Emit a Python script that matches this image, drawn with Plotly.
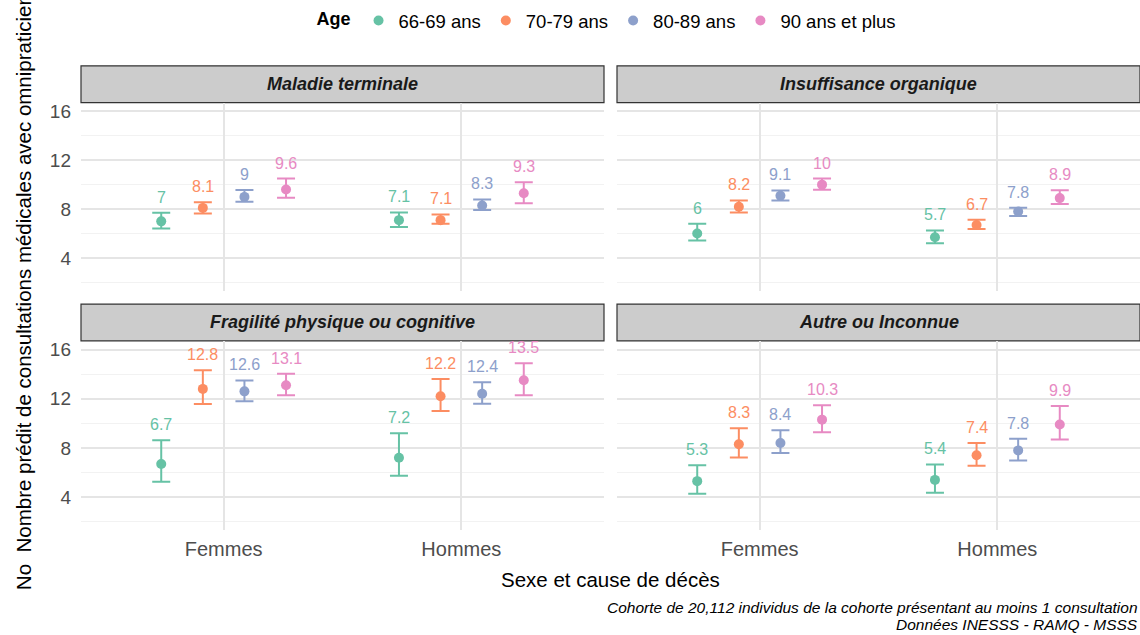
import plotly.graph_objects as go

# Donnees
sexes = ['Femmes', 'Hommes']
ages = ['66-69 ans', '70-79 ans', '80-89 ans', '90 ans et plus']
couleurs = ['#66c2a5', '#fc8d62', '#8da0cb', '#e78ac3']
causes = ['Maladie terminale', 'Insuffisance organique',
          'Fragilité physique ou cognitive', 'Autre ou Inconnue']

# valeurs[age] = [Femmes, Hommes]
terminale = [[7.0, 7.1], [8.1, 7.1], [9.0, 8.3], [9.6, 9.3]]
terminale_bas = [[6.42, 6.53], [7.65, 6.8], [8.6, 7.92], [8.92, 8.47]]
terminale_haut = [[7.7, 7.73], [8.56, 7.57], [9.56, 8.79], [10.5, 10.2]]

organique = [[6.0, 5.7], [8.2, 6.7], [9.1, 7.8], [10.0, 8.9]]
organique_bas = [[5.44, 5.2], [7.73, 6.37], [8.71, 7.43], [9.58, 8.41]]
organique_haut = [[6.8, 6.26], [8.71, 7.13], [9.53, 8.11], [10.5, 9.55]]

fragilite = [[6.7, 7.2], [12.8, 12.2], [12.6, 12.4], [13.1, 13.5]]
fragilite_bas = [[5.24, 5.73], [11.57, 11.0], [11.8, 11.6], [12.29, 12.29]]
fragilite_haut = [[8.62, 9.2], [14.31, 13.6], [13.49, 13.35], [14.03, 14.88]]

autre = [[5.3, 5.4], [8.3, 7.4], [8.4, 7.8], [10.3, 9.9]]
autre_bas = [[4.28, 4.36], [7.23, 6.55], [7.59, 6.98], [9.28, 8.68]]
autre_haut = [[6.6, 6.66], [9.61, 8.41], [9.44, 8.74], [11.47, 11.41]]

donnees = [
    (terminale, terminale_bas, terminale_haut),
    (organique, organique_bas, organique_haut),
    (fragilite, fragilite_bas, fragilite_haut),
    (autre, autre_bas, autre_haut),
]

W, H = 1140, 635
police = 'Liberation Sans, Arial, sans-serif'

# panneaux en pixels (x0, x1) et (haut, bas)
cols = [(81, 604), (617, 1140)]
rows = [(101, 290), (340, 530)]


def px_x(p):
    return p / W


def px_y(p):
    return 1 - p / H


fig = go.Figure()

dodge = 0.7
n = len(ages)
decal = [(-dodge / 2 + dodge / n * (i + 0.5)) for i in range(n)]

for k, (val, bas, haut) in enumerate(donnees):
    r, c = k // 2, k % 2
    idx = k + 1
    xa = 'x' if idx == 1 else f'x{idx}'
    ya = 'y' if idx == 1 else f'y{idx}'
    for i, age in enumerate(ages):
        xs = [j + 1 + decal[i] for j in range(len(sexes))]
        ys = val[i]
        plus = [h - v for h, v in zip(haut[i], ys)]
        moins = [v - b for v, b in zip(ys, bas[i])]
        fig.add_trace(go.Scatter(
            x=xs, y=ys, mode='markers', name=age,
            legendgroup=age, showlegend=(k == 0),
            marker=dict(color=couleurs[i], size=10),
            error_y=dict(type='data', symmetric=False, array=plus, arrayminus=moins,
                         color=couleurs[i], thickness=2, width=9),
            xaxis=xa, yaxis=ya, hoverinfo='skip'))
        for x, v, h in zip(xs, ys, haut[i]):
            fig.add_annotation(x=x, y=h, xref=xa, yref=ya, text=f'{v:g}',
                               showarrow=False, xanchor='center', yanchor='bottom',
                               yshift=5,
                               font=dict(color=couleurs[i], size=16, family=police))

    x0, x1 = cols[c]
    y0, y1 = rows[r]
    axe_x = dict(domain=[px_x(x0), px_x(x1)], range=[0.4, 2.6],
                 tickvals=[1, 2], ticktext=sexes, showticklabels=(r == 1),
                 showgrid=True, gridcolor='#e5e5e5', gridwidth=1.5,
                 zeroline=False, showline=False, ticks='', ticklabelstandoff=5,
                 tickfont=dict(size=20, color='#4d4d4d', family=police),
                 anchor=ya)
    axe_y = dict(domain=[px_y(y1), px_y(y0)], range=[1.3, 16.7],
                 tickvals=[4, 8, 12, 16], showticklabels=(c == 0),
                 showgrid=True, gridcolor='#e5e5e5', gridwidth=1.5,
                 minor=dict(tickvals=[2, 6, 10, 14], showgrid=True,
                            gridcolor='#f2f2f2', gridwidth=1),
                 zeroline=False, showline=False, ticks='', ticklabelstandoff=9,
                 tickfont=dict(size=19, color='#4d4d4d', family=police),
                 anchor=xa)
    key = '' if idx == 1 else str(idx)
    fig.layout['xaxis' + key] = axe_x
    fig.layout['yaxis' + key] = axe_y

    # bandeau du facet
    fig.add_shape(type='rect', xref='paper', yref='paper',
                  x0=px_x(x0), x1=px_x(x1), y0=px_y(y0), y1=px_y(y0 - 37),
                  fillcolor='#cccccc', line=dict(color='#333333', width=1.2),
                  layer='below')
    fig.add_annotation(x=px_x((x0 + x1) / 2), y=px_y(y0 - 18.5), xref='paper', yref='paper',
                       xanchor='center', yanchor='middle',
                       text=f'<b><i>{causes[k]}</i></b>', showarrow=False,
                       font=dict(size=18, color='#1a1a1a', family=police))

# titres
fig.add_annotation(x=px_x(610), y=px_y(579), xref='paper', yref='paper',
                   xanchor='center', yanchor='middle',
                   text='Sexe et cause de décès', showarrow=False,
                   font=dict(size=20.5, color='black', family=police))
fig.add_annotation(x=px_x(23), y=px_y(592), xref='paper', yref='paper',
                   xanchor='center', yanchor='bottom', textangle=-90,
                   text='No  Nombre prédit de consultations médicales avec omnipraticiens',
                   showarrow=False, font=dict(size=20.5, color='black', family=police))
fig.add_annotation(x=1, y=px_y(607), xref='paper', yref='paper',
                   xanchor='right', yanchor='middle',
                   text='<i>Cohorte de 20,112 individus de la cohorte présentant au moins 1 consultation</i>',
                   showarrow=False, font=dict(size=15.5, color='black', family=police))
fig.add_annotation(x=1, y=px_y(624), xref='paper', yref='paper',
                   xanchor='right', yanchor='middle',
                   text='<i>Données INESSS - RAMQ - MSSS</i>',
                   showarrow=False, font=dict(size=15.5, color='black', family=police))

fig.update_layout(
    width=W, height=H,
    margin=dict(l=0, r=0, t=0, b=0),
    paper_bgcolor='white', plot_bgcolor='white',
    font=dict(family=police),
    legend=dict(orientation='h', x=px_x(608), xanchor='center', y=px_y(0), yanchor='top',
                title=dict(text='<b>Age</b>', font=dict(size=18, color='black')),
                font=dict(size=18.5, color='black'), itemwidth=30),
)

fig.write_html('out.html', config={'displayModeBar': False},
               post_script="document.body.style.margin='0';")
